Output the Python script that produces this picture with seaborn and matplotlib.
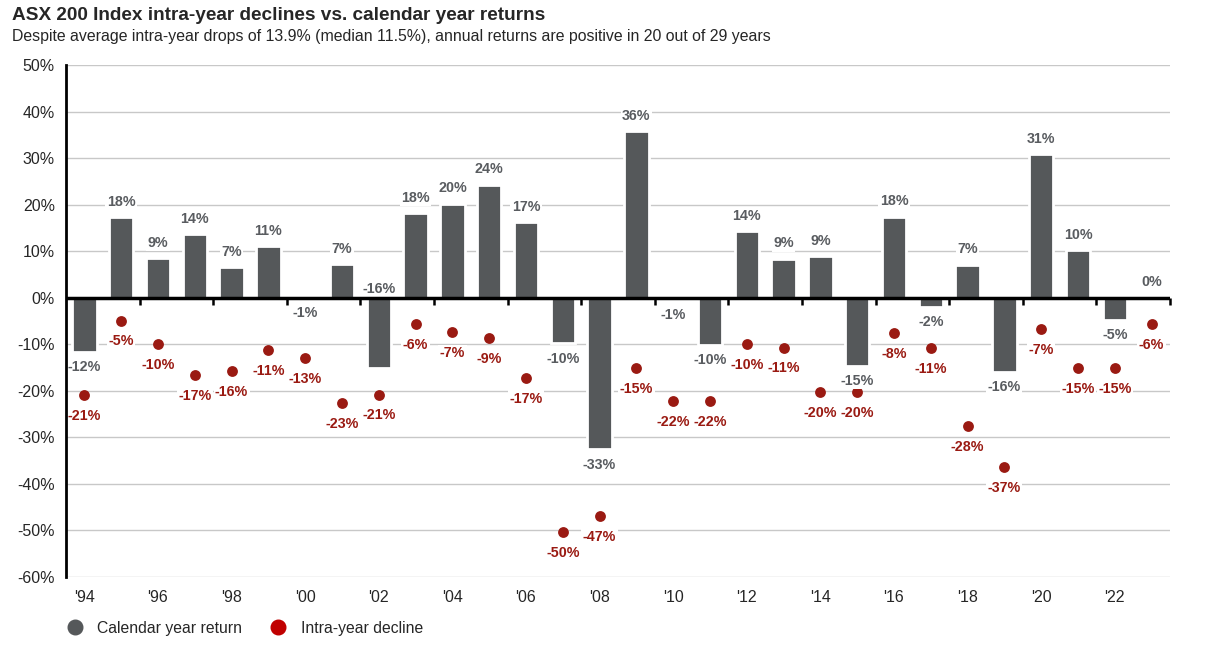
import matplotlib
matplotlib.use('Agg')
import matplotlib.pyplot as plt
import seaborn as sns
import pandas as pd
from matplotlib.lines import Line2D

sns.set_style('white')
plt.rcParams['font.family'] = ['Liberation Sans', 'DejaVu Sans']
plt.rcParams['axes.unicode_minus'] = False

# 数据
years = ["'%02d" % (y % 100) for y in range(1994, 2024)]
returns = [-11.6, 17.3, 8.5, 13.7, 6.6, 11.1, 0.0, 7.2, -15.2, 18.2,
           20.2, 24.3, 16.2, -9.8, -32.6, 35.8, -0.4, -10.1, 14.3, 8.4,
           9.0, -14.6, 17.4, -1.9, 7.1, -15.9, 30.9, 10.3, -4.7, 0.0]
return_labels = ['-12%', '18%', '9%', '14%', '7%', '11%', '-1%', '7%', '-16%', '18%',
                 '20%', '24%', '17%', '-10%', '-33%', '36%', '-1%', '-10%', '14%', '9%',
                 '9%', '-15%', '18%', '-2%', '7%', '-16%', '31%', '10%', '-5%', '0%']
declines = [-20.9, -4.9, -10.0, -16.6, -15.8, -11.2, -13.0, -22.7, -20.8, -5.6,
            -7.4, -8.7, -17.2, -50.3, -46.9, -15.1, -22.2, -22.2, -10.0, -10.7,
            -20.2, -20.2, -7.6, -10.8, -27.6, -36.4, -6.8, -15.1, -15.1, -5.7]
decline_labels = ['-21%', '-5%', '-10%', '-17%', '-16%', '-11%', '-13%', '-23%', '-21%', '-6%',
                  '-7%', '-9%', '-17%', '-50%', '-47%', '-15%', '-22%', '-22%', '-10%', '-11%',
                  '-20%', '-20%', '-8%', '-11%', '-28%', '-37%', '-7%', '-15%', '-15%', '-6%']
y_ticks = list(range(-60, 51, 10))

bar_color = '#55585a'
dot_color = '#9a1a12'
legend_red = '#c00000'
grey_text = '#595c60'

df = pd.DataFrame({'year': years, 'ret': returns, 'decline': declines})

fig = plt.figure(figsize=(12.12, 6.48), dpi=100)
ax = fig.add_axes([66 / 1212, 1 - 577 / 648, (1170 - 66) / 1212, (577 - 65) / 648])

sns.barplot(data=df, x='year', y='ret', color=bar_color, width=0.66,
            edgecolor='white', linewidth=2, saturation=1, ax=ax, zorder=2)
sns.stripplot(data=df, x='year', y='decline', color=dot_color, jitter=False,
              size=7.8, linewidth=0, ax=ax, zorder=3)

ax.set_ylim(-60, 50)
ax.set_xlim(-0.5, len(years) - 0.5)
ax.set_yticks(y_ticks)
ax.set_yticklabels(['%d%%' % v for v in y_ticks], fontsize=11.5)
ax.set_xticks(range(0, len(years), 2))
ax.set_xticklabels(years[::2], fontsize=11.5)
ax.tick_params(axis='both', length=0)
ax.tick_params(axis='y', pad=8)
ax.tick_params(axis='x', pad=9)
ax.set_xlabel('')
ax.set_ylabel('')
ax.grid(axis='y', color='#c8c8c8', linewidth=1)
ax.set_axisbelow(True)
for s in ['top', 'right', 'bottom']:
    ax.spines[s].set_visible(False)
ax.spines['left'].set_color('black')
ax.spines['left'].set_linewidth(2)
ax.spines['left'].set_zorder(6)

# 零线及刻度
ax.axhline(0, color='black', linewidth=2.5, zorder=5)
bounds = [i + 1.5 for i in range(0, len(years), 2)]
ax.plot(bounds, [0] * len(bounds), linestyle='none', marker=3, markersize=5,
        markeredgewidth=1.8, color='black', zorder=5, clip_on=False)

box = dict(facecolor='white', edgecolor='none', pad=1)

# 柱标签
for i, (v, lab) in enumerate(zip(returns, return_labels)):
    if years[i] == "'02":
        y0, off = 0, 6
    elif lab.startswith('-'):
        y0, off = v, -11
    else:
        y0, off = v, 11
    ax.annotate(lab, (i, y0), xytext=(0, off), textcoords='offset points',
                ha='center', va='center', fontsize=10.3, fontweight='bold',
                color=grey_text, bbox=box, zorder=4)

# 点标签
for i, (v, lab) in enumerate(zip(declines, decline_labels)):
    ax.annotate(lab, (i, v), xytext=(0, -15), textcoords='offset points',
                ha='center', va='center', fontsize=10.3, fontweight='bold',
                color=dot_color, bbox=box, zorder=4)

fig.text(12 / 1212, 1 - 16 / 648, 'ASX 200 Index intra-year declines vs. calendar year returns',
         fontsize=13.7, fontweight='bold', va='center', ha='left')
fig.text(12 / 1212, 1 - 37 / 648,
         'Despite average intra-year drops of 13.9% (median 11.5%), annual returns are positive in 20 out of 29 years',
         fontsize=11.4, va='center', ha='left')

handles = [Line2D([], [], marker='o', linestyle='none', markersize=10.5, color=bar_color),
           Line2D([], [], marker='o', linestyle='none', markersize=10.5, color=legend_red)]
fig.legend(handles, ['Calendar year return', 'Intra-year decline'], loc='center left',
           bbox_to_anchor=(51 / 1212, 1 - 628 / 648), ncol=2, frameon=False,
           fontsize=11.3, handletextpad=0.85, columnspacing=1.7, handlelength=1.2)

fig.savefig('out.png', dpi=100)
